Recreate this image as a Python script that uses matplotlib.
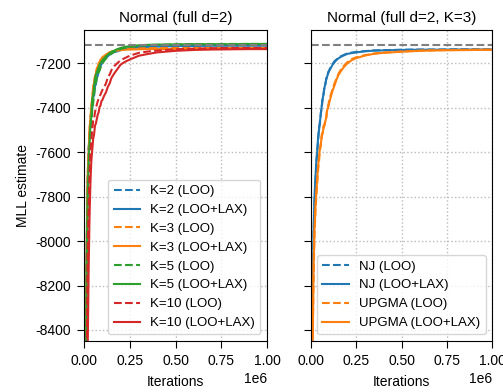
import numpy as np
import matplotlib
matplotlib.use("Agg")
import matplotlib.pyplot as plt

plt.rcParams["font.family"] = ["Liberation Sans", "DejaVu Sans"]
plt.rcParams["axes.unicode_minus"] = False
plt.rcParams["font.size"] = 10

# iterations in thousands (shared x grid)
iters_k = [5, 10, 15, 20, 25, 30, 35, 40, 45, 50, 55, 60, 65, 70, 75, 80, 85, 90, 95, 100,
           110, 120, 130, 140, 150, 165, 180, 200, 225, 250, 300, 350, 400, 500, 600, 700,
           800, 900, 1000]
iters = [v * 1000 for v in iters_k]

ref_mll = -7115

# left panel: K values, LOO / LOO+LAX
k2_loo = [-9900, -8700, -8000, -7720, -7580, -7540, -7440, -7420, -7370, -7340, -7320, -7280, -7275,
          -7240, -7235, -7215, -7210, -7198, -7190, -7182, -7172, -7162, -7158, -7150, -7148, -7141,
          -7139, -7135, -7131, -7128, -7124, -7122, -7121, -7119, -7118, -7118, -7117, -7117, -7117]
k2_lax = [-9800, -8650, -8050, -7760, -7620, -7520, -7480, -7410, -7405, -7350, -7345, -7300, -7295,
          -7265, -7255, -7232, -7228, -7210, -7205, -7192, -7185, -7172, -7168, -7158, -7156, -7148,
          -7146, -7140, -7136, -7132, -7127, -7125, -7124, -7122, -7121, -7120, -7120, -7120, -7120]
k3_loo = [-9950, -8750, -8050, -7750, -7620, -7520, -7450, -7410, -7350, -7320, -7300, -7260, -7250,
          -7225, -7218, -7200, -7195, -7186, -7180, -7175, -7168, -7160, -7156, -7150, -7147, -7143,
          -7140, -7137, -7135, -7133, -7132, -7131, -7130, -7130, -7130, -7130, -7130, -7130, -7130]
k3_lax = [-9900, -8700, -8000, -7700, -7610, -7490, -7450, -7390, -7360, -7300, -7290, -7255, -7245,
          -7222, -7215, -7198, -7194, -7183, -7180, -7172, -7166, -7160, -7156, -7150, -7148, -7144,
          -7142, -7140, -7138, -7137, -7136, -7135, -7135, -7135, -7135, -7135, -7135, -7135, -7135]
k5_loo = [-10000, -8900, -8150, -7850, -7700, -7600, -7520, -7480, -7410, -7380, -7340, -7300, -7285,
          -7265, -7255, -7240, -7232, -7220, -7210, -7200, -7188, -7178, -7168, -7162, -7155, -7148,
          -7142, -7135, -7129, -7126, -7120, -7117, -7116, -7114, -7113, -7113, -7112, -7112, -7112]
k5_lax = [-10000, -8800, -8100, -7800, -7650, -7560, -7480, -7440, -7360, -7340, -7300, -7270, -7250,
          -7240, -7228, -7220, -7206, -7198, -7192, -7185, -7176, -7168, -7160, -7154, -7148, -7142,
          -7136, -7130, -7125, -7122, -7118, -7116, -7115, -7114, -7113, -7113, -7113, -7112, -7112]
k10_loo = [-10400, -9200, -8500, -8050, -7850, -7700, -7600, -7550, -7500, -7460, -7450, -7420, -7400,
           -7385, -7370, -7360, -7350, -7340, -7330, -7320, -7305, -7290, -7262, -7250, -7230, -7212,
           -7200, -7185, -7175, -7165, -7152, -7146, -7142, -7136, -7133, -7131, -7130, -7130, -7130]
k10_lax = [-10500, -9300, -9000, -8500, -8150, -7900, -7740, -7640, -7590, -7540, -7520, -7480, -7470,
           -7450, -7430, -7420, -7395, -7390, -7370, -7365, -7345, -7330, -7305, -7290, -7265, -7245,
           -7228, -7205, -7192, -7182, -7165, -7157, -7150, -7143, -7139, -7137, -7136, -7135, -7135]

# right panel: initial tree (K=3)
nj_loo = [-9300, -8350, -7980, -7830, -7740, -7660, -7590, -7550, -7490, -7470, -7420, -7400, -7350,
          -7340, -7300, -7295, -7265, -7262, -7240, -7232, -7215, -7202, -7190, -7183, -7175, -7168,
          -7162, -7155, -7151, -7148, -7144, -7141, -7140, -7138, -7137, -7137, -7136, -7136, -7136]
nj_lax = [-9200, -8300, -7950, -7800, -7720, -7640, -7600, -7530, -7500, -7460, -7430, -7390, -7360,
          -7335, -7310, -7290, -7272, -7258, -7245, -7235, -7220, -7205, -7195, -7185, -7178, -7170,
          -7164, -7157, -7153, -7150, -7145, -7142, -7141, -7139, -7138, -7138, -7137, -7137, -7137]
upgma_loo = [-9500, -8500, -8150, -7980, -7870, -7800, -7740, -7680, -7640, -7590, -7570, -7520, -7515,
             -7480, -7475, -7450, -7445, -7400, -7395, -7370, -7340, -7315, -7290, -7270, -7250, -7228,
             -7212, -7195, -7180, -7172, -7162, -7155, -7151, -7146, -7142, -7140, -7139, -7138, -7138]
upgma_lax = [-9400, -8450, -8100, -7950, -7850, -7780, -7720, -7660, -7620, -7580, -7560, -7530, -7510,
             -7490, -7480, -7460, -7440, -7410, -7400, -7380, -7350, -7320, -7300, -7275, -7255, -7235,
             -7218, -7200, -7185, -7176, -7164, -7156, -7152, -7147, -7143, -7141, -7140, -7139, -7138]

left_series = [
    ("K=2", k2_loo, k2_lax, "#1f77b4"),
    ("K=3", k3_loo, k3_lax, "#ff7f0e"),
    ("K=5", k5_loo, k5_lax, "#2ca02c"),
    ("K=10", k10_loo, k10_lax, "#d62728"),
]
right_series = [
    ("NJ", nj_loo, nj_lax, "#1f77b4"),
    ("UPGMA", upgma_loo, upgma_lax, "#ff7f0e"),
]

fig = plt.figure(figsize=(5.03, 3.92), dpi=100)
ax1 = fig.add_axes([0.167, 0.130, 0.364, 0.793])
ax2 = fig.add_axes([0.618, 0.130, 0.361, 0.793], sharey=ax1)

for ax, series, title in [(ax1, left_series, "Normal (full d=2)"),
                          (ax2, right_series, "Normal (full d=2, K=3)")]:
    for name, loo, lax, c in series:
        ax.plot(iters, loo, "--", color=c, lw=1.5, label=f"{name} (LOO)")
        ax.plot(iters, lax, "-", color=c, lw=1.5, label=f"{name} (LOO+LAX)")
    ax.axhline(ref_mll, color="gray", ls="--", lw=1.5)
    ax.set_xlim(0, 1e6)
    ax.set_title(title, fontsize=11)
    ax.set_xlabel("Iterations", labelpad=5)
    ax.grid(True, ls=":", color="#bbbbbb", lw=1)
    ax.set_xticks([0, 0.25e6, 0.5e6, 0.75e6, 1e6])
    ax.tick_params(length=5, pad=4.5)
    ax.legend(loc="lower right", fontsize=9.5, framealpha=0.8)

ax1.set_ylim(-8450, -7050)
ax1.set_yticks(np.arange(-8400, -7199, 200))
ax1.set_ylabel("MLL estimate")
plt.setp(ax2.get_yticklabels(), visible=False)

fig.savefig("out.png", dpi=100)
